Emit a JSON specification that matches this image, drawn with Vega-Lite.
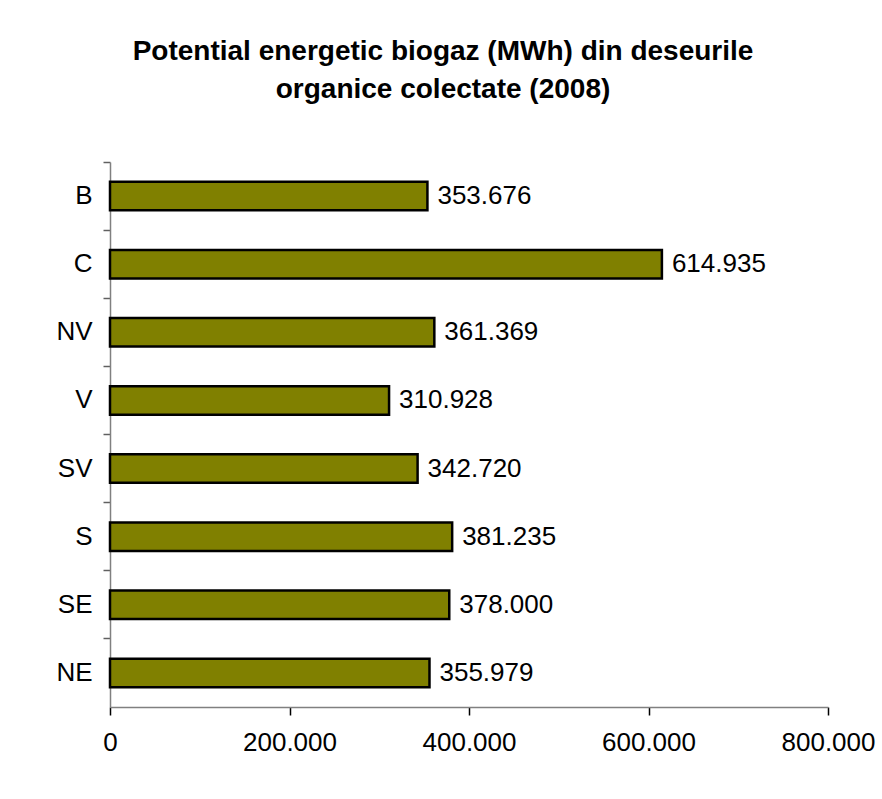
{
  "$schema": "https://vega.github.io/schema/vega-lite/v6.json",
  "autosize": "none",
  "width": 718,
  "height": 545,
  "padding": {"left": 110, "top": 162, "right": 54, "bottom": 92},
  "background": "white",
  "title": {
    "text": ["Potential energetic biogaz (MWh) din deseurile", "organice colectate (2008)"],
    "font": "Liberation Sans",
    "fontSize": 28,
    "fontWeight": "bold",
    "color": "black",
    "lineHeight": 38,
    "anchor": "middle",
    "dx": -26,
    "offset": 57
  },
  "config": {
    "view": {"stroke": null},
    "locale": {"number": {"decimal": ",", "thousands": ".", "grouping": [3], "currency": ["", ""]}},
    "axis": {"grid": false, "labelFont": "Liberation Sans", "labelFontSize": 26, "labelColor": "black", "domainColor": "#808080", "domainWidth": 1.5}
  },
  "data": {
    "values": [
      {"region": "B", "value": 353676},
      {"region": "C", "value": 614935},
      {"region": "NV", "value": 361369},
      {"region": "V", "value": 310928},
      {"region": "SV", "value": 342720},
      {"region": "S", "value": 381235},
      {"region": "SE", "value": 378000},
      {"region": "NE", "value": 355979}
    ]
  },
  "encoding": {
    "y": {
      "field": "region",
      "type": "nominal",
      "sort": null,
      "scale": {"paddingInner": 0, "paddingOuter": 0},
      "axis": {"title": null, "bandPosition": 0, "tickSize": 7, "tickColor": "#606060", "tickWidth": 1.5, "labelPadding": 11, "labelAlign": "right"}
    },
    "x": {
      "field": "value",
      "type": "quantitative",
      "scale": {"domain": [0, 800000], "nice": false},
      "axis": {"title": null, "values": [0, 200000, 400000, 600000, 800000], "format": ",d", "tickSize": 8, "tickColor": "black", "tickWidth": 1.5, "labelPadding": 14, "labelFlush": false}
    }
  },
  "layer": [
    {
      "mark": {"type": "bar", "color": "#808000", "stroke": "black", "strokeWidth": 2.5, "height": {"band": 0.42}}
    },
    {
      "mark": {"type": "text", "align": "left", "baseline": "middle", "dx": 10, "font": "Liberation Sans", "fontSize": 26, "color": "black"},
      "encoding": {"text": {"field": "value", "type": "quantitative", "format": ",d"}}
    }
  ]
}
